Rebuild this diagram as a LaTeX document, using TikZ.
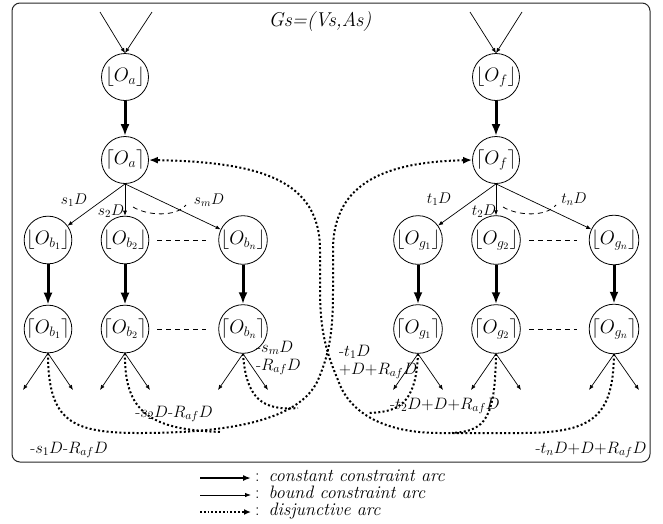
\RequirePackage{fix-cm}
\documentclass[tikz,border=0pt]{standalone}
\usetikzlibrary{arrows.meta}
\begin{document}
\begin{tikzpicture}[x=1pt,y=-1pt,
  onode/.style={circle,draw,line width=0.8pt,minimum size=47pt,inner sep=0pt,font=\fontsize{19.5}{22}\selectfont},
  constarc/.style={line width=3pt,-{Latex[length=12pt,width=9pt]}},
  boundarc/.style={line width=0.7pt,-{Latex[length=5pt,width=4pt]}},
  disjarc/.style={line width=2pt,dash pattern=on 2pt off 2.3pt,-{Latex[length=9pt,width=7pt]}},
  disjline/.style={line width=2pt,dash pattern=on 2pt off 2.3pt},
  dashline/.style={line width=0.8pt,dash pattern=on 5pt off 4pt},
  lbl/.style={font=\fontsize{16.5}{18}\selectfont,inner sep=0pt},
  brl/.style={font=\fontsize{15.5}{17}\selectfont,inner sep=0pt},
  legtxt/.style={font=\fontsize{18}{20}\selectfont,inner sep=0pt,anchor=west,text height=10pt,text depth=3pt},
]
\useasboundingbox (0,0) rectangle (663,523);
% frame
\draw[line width=1pt,black!85,rounded corners=8pt] (12,3) rectangle (650,462);
\node[font=\fontsize{20}{24}\selectfont\itshape] (title) at (320,22) {Gs=(Vs,As)};

% ---------- left tree ----------
\node[onode] (oaf) at (125,77) {$\lfloor O_a\rfloor$};
\node[onode] (oac) at (125,160) {$\lceil O_a\rceil$};
\node[onode] (ob1f) at (48,240) {$\lfloor O_{b_1}\rfloor$};
\node[onode] (ob2f) at (125,240) {$\lfloor O_{b_2}\rfloor$};
\node[onode] (obnf) at (243,240) {$\lfloor O_{b_n}\rfloor$};
\node[onode] (ob1c) at (48,329) {$\lceil O_{b_1}\rceil$};
\node[onode] (ob2c) at (125,329) {$\lceil O_{b_2}\rceil$};
\node[onode] (obnc) at (243,329) {$\lceil O_{b_n}\rceil$};

% ---------- right tree ----------
\node[onode] (off) at (496,77) {$\lfloor O_f\rfloor$};
\node[onode] (ofc) at (496,160) {$\lceil O_f\rceil$};
\node[onode] (og1f) at (418,240) {$\lfloor O_{g_1}\rfloor$};
\node[onode] (og2f) at (496,240) {$\lfloor O_{g_2}\rfloor$};
\node[onode] (ognf) at (614,240) {$\lfloor O_{g_n}\rfloor$};
\node[onode] (og1c) at (418,329) {$\lceil O_{g_1}\rceil$};
\node[onode] (og2c) at (496,329) {$\lceil O_{g_2}\rceil$};
\node[onode] (ognc) at (614,329) {$\lceil O_{g_n}\rceil$};

% incoming arcs
\coordinate (ia1) at (100,12); \coordinate (ia2) at (152,12);
\coordinate (if1) at (470,12); \coordinate (if2) at (522,12);
\draw[boundarc] (ia1) -- (oaf.north);
\draw[boundarc] (ia2) -- (oaf.north);
\draw[boundarc] (if1) -- (off.north);
\draw[boundarc] (if2) -- (off.north);

% constant arcs
\foreach \a/\b in {oaf/oac,ob1f/ob1c,ob2f/ob2c,obnf/obnc,off/ofc,og1f/og1c,og2f/og2c,ognf/ognc}
  \draw[constarc] (\a) -- (\b);

% branch arcs
\draw[boundarc] (oac.south) -- (ob1f);
\draw[boundarc] (oac.south) -- (ob2f.north);
\draw[boundarc] (oac.south) -- (obnf);
\draw[boundarc] (ofc.south) -- (og1f);
\draw[boundarc] (ofc.south) -- (og2f.north);
\draw[boundarc] (ofc.south) -- (ognf);

\node[brl] (ls1) at (74,200) {$s_1D$};
\node[brl] (ls2) at (111,211) {$s_2D$};
\node[brl] (lsm) at (209,200) {$s_mD$};
\node[brl] (lt1) at (439,199) {$t_1D$};
\node[brl] (lt2) at (484,211) {$t_2D$};
\node[brl] (ltn) at (574,199) {$t_nD$};

\draw[dashline] (133,207) .. controls (148,216) and (176,217) .. (186,205);
\draw[dashline] (503,207) .. controls (518,216) and (546,217) .. (556,205);

% dashed gaps between columns
\draw[dashline,shorten <=8pt,shorten >=12pt] (ob2f) -- (obnf);
\draw[dashline,shorten <=8pt,shorten >=12pt] (ob2c) -- (obnc);
\draw[dashline,shorten <=8pt,shorten >=12pt] (og2f) -- (ognf);
\draw[dashline,shorten <=8pt,shorten >=12pt] (og2c) -- (ognc);

% outgoing bound arcs of the lower nodes
\foreach \n/\x in {ob1c/48,ob2c/125,obnc/243,og1c/418,og2c/496,ognc/614}{
  \coordinate (\n l) at (\x-25,390);
  \coordinate (\n r) at (\x+25,390);
  \draw[boundarc] (\n.south) -- (\n l);
  \draw[boundarc] (\n.south) -- (\n r);
}

% ---------- disjunctive arcs ----------
% from the O_b nodes to O_f
\draw[disjarc] (ob1c.south) .. controls (48,422) and (72,433) .. (140,433)
  .. controls (230,433) and (300,420) .. (318,380)
  .. controls (330,352) and (333,330) .. (333,290) -- (333,250)
  .. controls (333,180) and (390,162) .. (ofc.west);
\draw[disjline] (ob2c.south) .. controls (124,412) and (150,430) .. (222,432);
\draw[disjline] (obnc.south) .. controls (246,398) and (262,411) .. (298,408);
% from the O_g nodes to O_a
\draw[disjarc] (ognc.south) .. controls (613,418) and (592,433) .. (520,433) -- (440,433)
  .. controls (380,433) and (348,410) .. (338,380)
  .. controls (326,352) and (320,330) .. (320,290) -- (320,250)
  .. controls (320,180) and (260,162) .. (oac.east);
\draw[disjline] (og2c.south) .. controls (495,418) and (486,431) .. (452,433);
\draw[disjline] (og1c.south) .. controls (416,405) and (398,412) .. (368,413);

% weights
\node[lbl,anchor=north west,align=left] (wm) at (256,341) {-$s_mD$\\-$R_{af}D$};
\node[lbl] (w2) at (174,414) {-$s_2D$-$R_{af}D$};
\node[lbl] (w1) at (69,450) {-$s_1D$-$R_{af}D$};
\node[lbl,anchor=north west,align=left] (wt1) at (339,345) {-$t_1D$\\{+}$D{+}R_{af}D$};
\node[lbl] (wt2) at (445,406) {-$t_2D{+}D{+}R_{af}D$};
\node[lbl] (wtn) at (591,450) {-$t_nD{+}D{+}R_{af}D$};

% ---------- legend ----------
\coordinate (la1) at (200,478); \coordinate (lb1) at (251,478);
\coordinate (la2) at (200,495); \coordinate (lb2) at (251,495);
\coordinate (la3) at (200,512); \coordinate (lb3) at (251,512);
\draw[line width=2pt,-{Latex[length=8pt,width=6pt]}] (la1) -- (lb1);
\draw[line width=0.8pt,-{Latex[length=6pt,width=4.5pt]}] (la2) -- (lb2);
\draw[line width=1.8pt,dash pattern=on 1.8pt off 2pt,-{Latex[length=7pt,width=6pt]}] (la3) -- (lb3);
\node[legtxt] (t1) at (255,478) {:\enspace\textit{constant constraint arc}};
\node[legtxt] (t2) at (255,495) {:\enspace\textit{bound constraint arc}};
\node[legtxt] (t3) at (255,512) {:\enspace\textit{disjunctive arc}};
\end{tikzpicture}
\end{document}
